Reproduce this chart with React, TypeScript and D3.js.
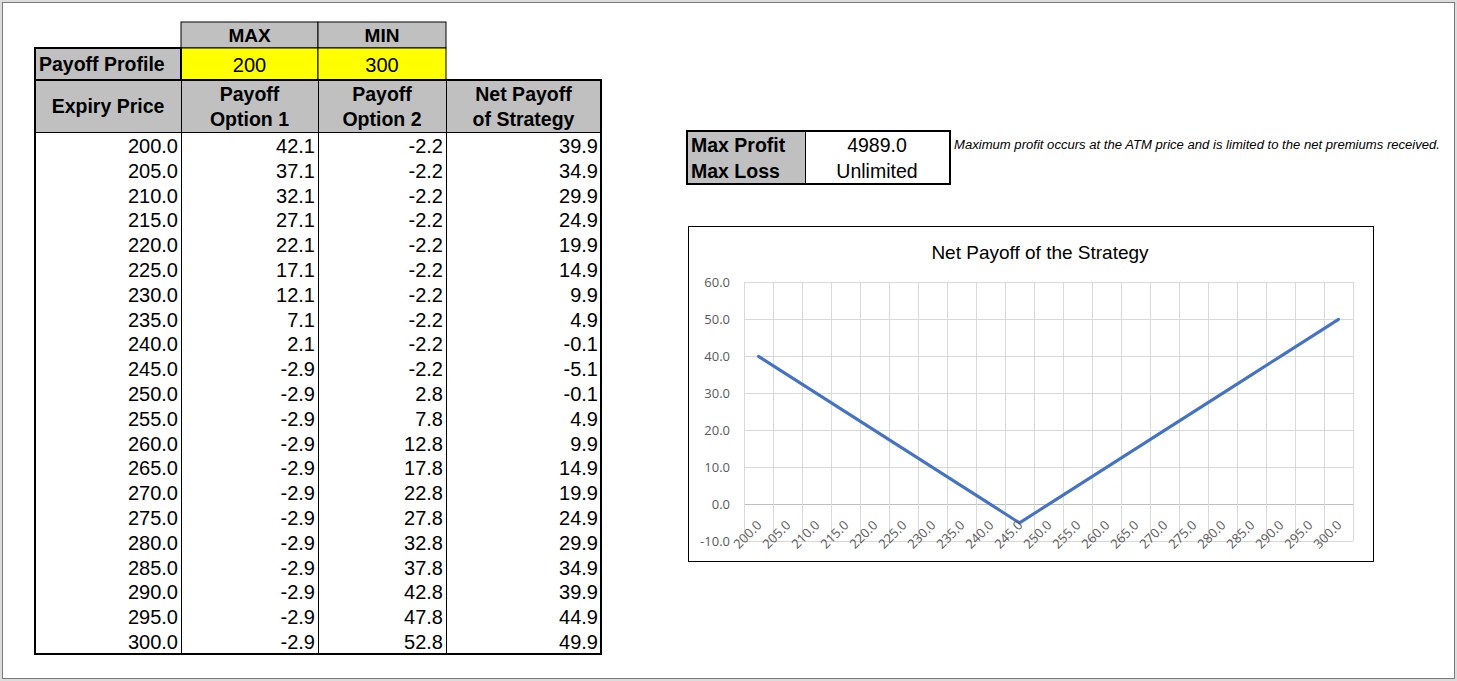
import React from 'react';
import * as d3 from 'd3';

// table values
const expiryPrices = [200, 205, 210, 215, 220, 225, 230, 235, 240, 245, 250, 255, 260, 265, 270, 275, 280, 285, 290, 295, 300];
const payoffOption1 = [42.1, 37.1, 32.1, 27.1, 22.1, 17.1, 12.1, 7.1, 2.1, -2.9, -2.9, -2.9, -2.9, -2.9, -2.9, -2.9, -2.9, -2.9, -2.9, -2.9, -2.9];
const payoffOption2 = [-2.2, -2.2, -2.2, -2.2, -2.2, -2.2, -2.2, -2.2, -2.2, -2.2, 2.8, 7.8, 12.8, 17.8, 22.8, 27.8, 32.8, 37.8, 42.8, 47.8, 52.8];
const netPayoff = [39.9, 34.9, 29.9, 24.9, 19.9, 14.9, 9.9, 4.9, -0.1, -5.1, -0.1, 4.9, 9.9, 14.9, 19.9, 24.9, 29.9, 34.9, 39.9, 44.9, 49.9];

const profileHeaders = ['MAX', 'MIN'];
const profileValues = ['200', '300'];
const columnHeaders = [['Expiry Price'], ['Payoff', 'Option 1'], ['Payoff', 'Option 2'], ['Net Payoff', 'of Strategy']];

const summaryLabels = ['Max Profit', 'Max Loss'];
const summaryValues = ['4989.0', 'Unlimited'];
const note = 'Maximum profit occurs at the ATM price and is limited to the net premiums received.';

const chartTitle = 'Net Payoff of the Strategy';
const yTicks = [-10, 0, 10, 20, 30, 40, 50, 60];

const W = 1457;
const H = 681;
const tableFont = '"Liberation Sans", Arial, sans-serif';
const tickFont = '"Open Sans", sans-serif';

const App = () => {
  // table geometry
  const colX = [35, 181, 318, 446, 601];
  const rowY = d3.scaleBand<number>()
    .domain(d3.range(expiryPrices.length))
    .range([133, 654]);
  const columns = [expiryPrices, payoffOption1, payoffOption2, netPayoff];

  // chart geometry
  const box = { x: 688, y: 226, w: 685, h: 335 };
  const x = d3.scaleBand<string>()
    .domain(expiryPrices.map(d => d.toFixed(1)))
    .range([744, 1353]);
  const y = d3.scaleLinear().domain([-10, 60]).range([541, 282]);
  const line = d3.line<number>()
    .x((_, i) => (x(expiryPrices[i].toFixed(1)) as number) + x.bandwidth() / 2)
    .y(d => y(d));
  const boundaries = d3.range(expiryPrices.length + 1).map(i => 744 + i * x.step());

  return (
    <svg width={W} height={H} style={{ position: 'absolute', left: 0, top: 0, background: '#fff' }}>
      {/* window frame */}
      <rect x={0} y={0} width={W} height={H} fill="#dcdcdc" />
      <rect x={2.5} y={2.5} width={W - 5} height={H - 5} fill="#fff" stroke="#7a7a7a" />

      {/* MAX / MIN header */}
      {profileHeaders.map((h, i) => (
        <g key={h}>
          <rect x={colX[i + 1]} y={22} width={colX[i + 2] - colX[i + 1]} height={26} fill="#c0c0c0" stroke="#000" />
          <text x={(colX[i + 1] + colX[i + 2]) / 2} y={42} textAnchor="middle" fontFamily={tableFont} fontWeight="bold" fontSize={19}>{h}</text>
        </g>
      ))}
      {/* payoff profile row */}
      <rect x={colX[0]} y={48} width={colX[1] - colX[0]} height={32} fill="#c0c0c0" />
      {profileValues.map((v, i) => (
        <g key={v}>
          <rect x={colX[i + 1]} y={48} width={colX[i + 2] - colX[i + 1]} height={32} fill="#ffff00" stroke="#000" />
          <text x={(colX[i + 1] + colX[i + 2]) / 2} y={72} textAnchor="middle" fontFamily={tableFont} fontSize={20}>{v}</text>
        </g>
      ))}
      <rect x={colX[0]} y={48} width={colX[1] - colX[0]} height={32} fill="none" stroke="#000" strokeWidth={2} />
      <text x={39} y={71} fontFamily={tableFont} fontWeight="bold" fontSize={19.5}>Payoff Profile</text>

      {/* column headers */}
      <rect x={colX[0]} y={80} width={colX[4] - colX[0]} height={52} fill="#c0c0c0" />
      {columnHeaders.map((lines, i) => (
        <text key={i} textAnchor="middle" fontFamily={tableFont} fontWeight="bold" fontSize={19.5}>
          {lines.length === 1
            ? <tspan x={(colX[i] + colX[i + 1]) / 2} y={113}>{lines[0]}</tspan>
            : lines.map((l, j) => (
              <tspan key={j} x={(colX[i] + colX[i + 1]) / 2} y={101 + j * 25}>{l}</tspan>
            ))}
        </text>
      ))}

      {/* data rows */}
      {columns.map((col, c) => (
        <g key={c}>
          {col.map((v, r) => (
            <text key={r} x={colX[c + 1] - 3} y={(rowY(r) as number) + rowY.bandwidth() / 2 + 7.5}
              textAnchor="end" fontFamily={tableFont} fontSize={20}>{v.toFixed(1)}</text>
          ))}
        </g>
      ))}
      {colX.slice(1, 4).map(cx => (
        <line key={cx} x1={cx + 0.5} x2={cx + 0.5} y1={80} y2={654} stroke="#000" />
      ))}
      <line x1={colX[0]} x2={colX[4]} y1={132.5} y2={132.5} stroke="#000" />
      <rect x={colX[0]} y={80} width={colX[4] - colX[0]} height={574} fill="none" stroke="#000" strokeWidth={2} />

      {/* max profit / loss box */}
      <rect x={687} y={131} width={118} height={53} fill="#c0c0c0" />
      <line x1={805.5} x2={805.5} y1={131} y2={184} stroke="#000" />
      {summaryLabels.map((l, i) => (
        <g key={l}>
          <text x={691} y={152 + i * 26} fontFamily={tableFont} fontWeight="bold" fontSize={19.5}>{l}</text>
          <text x={877} y={152 + i * 26} textAnchor="middle" fontFamily={tableFont} fontSize={19.5}>{summaryValues[i]}</text>
        </g>
      ))}
      <rect x={687} y={131} width={263} height={53} fill="none" stroke="#000" strokeWidth={2} />
      <text x={954} y={149} fontFamily={tableFont} fontStyle="italic" fontSize={12.3}
        textLength={486} lengthAdjust="spacingAndGlyphs">{note}</text>

      {/* chart */}
      <rect x={box.x + 0.5} y={box.y + 0.5} width={box.w} height={box.h} fill="#fff" stroke="#000" />
      <text x={1040} y={259} textAnchor="middle" fontFamily={tableFont} fontSize={19} fill="#000">{chartTitle}</text>
      {yTicks.map(t => (
        <g key={t}>
          <line x1={744} x2={1353} y1={Math.round(y(t)) + 0.5} y2={Math.round(y(t)) + 0.5}
            stroke={t === 0 ? '#bfbfbf' : '#d9d9d9'} />
          <text x={730} y={y(t)} dy="0.35em" textAnchor="end" fontFamily={tickFont} fontSize={13} fill="#595959">{t.toFixed(1)}</text>
        </g>
      ))}
      {boundaries.map((bx, i) => (
        <line key={i} x1={Math.round(bx) + 0.5} x2={Math.round(bx) + 0.5} y1={282} y2={541} stroke="#d9d9d9" />
      ))}
      <path d={line(netPayoff) ?? ''} fill="none" stroke="#4472c4" strokeWidth={3} strokeLinejoin="round" strokeLinecap="round" />
      {x.domain().map(label => {
        const cx = (x(label) as number) + x.bandwidth() / 2 + 4;
        const cy = y(0) + 22;
        return (
          <text key={label} x={cx} y={cy} transform={`rotate(-45 ${cx} ${cy})`} textAnchor="end"
            fontFamily={tickFont} fontSize={13} fill="#595959">{label}</text>
        );
      })}
    </svg>
  );
};

export default App;
